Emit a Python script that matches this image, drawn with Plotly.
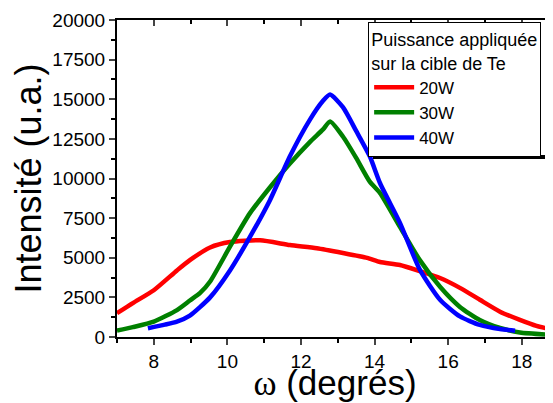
import plotly.graph_objects as go

# ---- data ----
red_x = [7.0, 7.43, 8.0, 8.63, 8.98, 9.53, 10.07, 10.89, 11.7, 12.43, 13.14, 13.8,
         14.15, 14.69, 15.23, 15.78, 16.32, 16.86, 17.41, 17.95, 18.4, 18.85]
red_y = [1500, 2140, 2950, 4200, 4850, 5650, 5990, 6100, 5800, 5600, 5300, 4990,
         4730, 4540, 4150, 3720, 3100, 2350, 1600, 1080, 700, 450]

green_x = [7.0, 7.43, 8.0, 8.63, 8.98, 9.26, 9.53, 10.07, 10.61, 11.16, 11.7, 12.24,
           12.6, 12.79, 13.14, 13.5, 13.87, 14.15, 14.69, 15.23, 15.78, 16.32,
           16.86, 17.41, 17.95, 18.85]
green_y = [400, 620, 970, 1700, 2300, 2780, 3500, 5700, 7800, 9450, 10950, 12300,
           13100, 13600, 12650, 11300, 9800, 9080, 6950, 4850, 3170, 1900,
           1070, 570, 280, 130]

blue_x = [7.84, 8.3, 8.63, 8.98, 9.53, 10.07, 10.61, 11.16, 11.7, 12.24, 12.6,
          12.79, 13.14, 13.5, 13.87, 14.15, 14.69, 15.23, 15.78, 16.32, 16.86,
          17.41, 17.82]
blue_y = [550, 780, 970, 1350, 2500, 4200, 6300, 8650, 11400, 13700, 14900,
          15300, 14500, 13000, 11400, 9700, 7200, 4250, 2350, 1300, 760,
          500, 400]

series_names = ["20W", "30W", "40W"]
series_colors = ["#ff0000", "#008000", "#0000ff"]
x_ticks = [8, 10, 12, 14, 16, 18]
x_ticklabels = ["8", "10", "12", "14", "16", "18"]
y_ticks = [0, 2500, 5000, 7500, 10000, 12500, 15000, 17500, 20000]
y_ticklabels = ["0", "2500", "5000", "7500", "10000", "12500", "15000", "17500", "20000"]
x_range = [7, 18.85]
y_range = [0, 20000]

FONT = "Liberation Sans, Arial, sans-serif"

fig = go.Figure()
for xs, ys, name, col in zip([red_x, green_x, blue_x], [red_y, green_y, blue_y],
                             series_names, series_colors):
    fig.add_trace(go.Scatter(x=xs, y=ys, mode="lines", name=name,
                             line=dict(color=col, width=4.5, shape="spline", smoothing=0.6)))

# invisible helper trace to materialise the top axis
fig.add_trace(go.Scatter(x=[None], y=[None], xaxis="x2", showlegend=False, hoverinfo="skip"))

# the page body has an 8px margin, so the figure is 8px smaller than the window
fig.update_layout(
    width=545, height=395,
    margin=dict(l=109, r=0, t=12, b=66),
    paper_bgcolor="white", plot_bgcolor="white",
    font=dict(family=FONT, color="black", size=19),
    showlegend=True,
    legend=dict(
        title=dict(text="Puissance appliquée<br>sur la cible de Te", font=dict(size=18)),
        font=dict(size=17),
        x=0.576, y=0.994, xanchor="left", yanchor="top",
        bordercolor="black", borderwidth=1, bgcolor="white",
        tracegroupgap=0, itemwidth=40,
    ),
    xaxis=dict(
        range=x_range, tickvals=x_ticks, ticktext=x_ticklabels,
        ticks="outside", ticklen=6, tickwidth=2, automargin=False,
        showline=True, linewidth=2, linecolor="black", showgrid=False, zeroline=False,
        minor=dict(dtick=1, ticks="outside", ticklen=4, tickwidth=1.5, tickcolor="black"),
        tickfont=dict(size=19),
        title=dict(text="<span style='font-family:Liberation Serif'>ω</span> (degrés)",
                   font=dict(size=35), standoff=0),
    ),
    xaxis2=dict(
        range=x_range, overlaying="x", side="top", anchor="y",
        tickvals=x_ticks, ticks="inside", ticklen=6, tickwidth=2, showticklabels=False,
        showline=True, linewidth=2, linecolor="black", showgrid=False, zeroline=False,
        minor=dict(dtick=1, ticks="inside", ticklen=4, tickwidth=1.5, tickcolor="black"),
    ),
    yaxis=dict(
        range=y_range, tickvals=y_ticks, ticktext=y_ticklabels,
        ticks="outside", ticklen=6, tickwidth=2, automargin=False,
        showline=True, linewidth=2, linecolor="black", showgrid=False, zeroline=False,
        minor=dict(dtick=1250, ticks="outside", ticklen=4, tickwidth=1.5, tickcolor="black"),
        tickfont=dict(size=19),
        title=dict(text="Intensité (u.a.)", font=dict(size=36), standoff=2),
    ),
)

# legend drop shadow
fig.add_shape(type="rect", xref="paper", yref="paper",
              x0=(373 - 117) / 436, x1=1.02, y0=(337 - 159) / 317, y1=(337 - 155) / 317,
              fillcolor="black", line=dict(width=0), layer="above")

fig.write_html("out.html")
